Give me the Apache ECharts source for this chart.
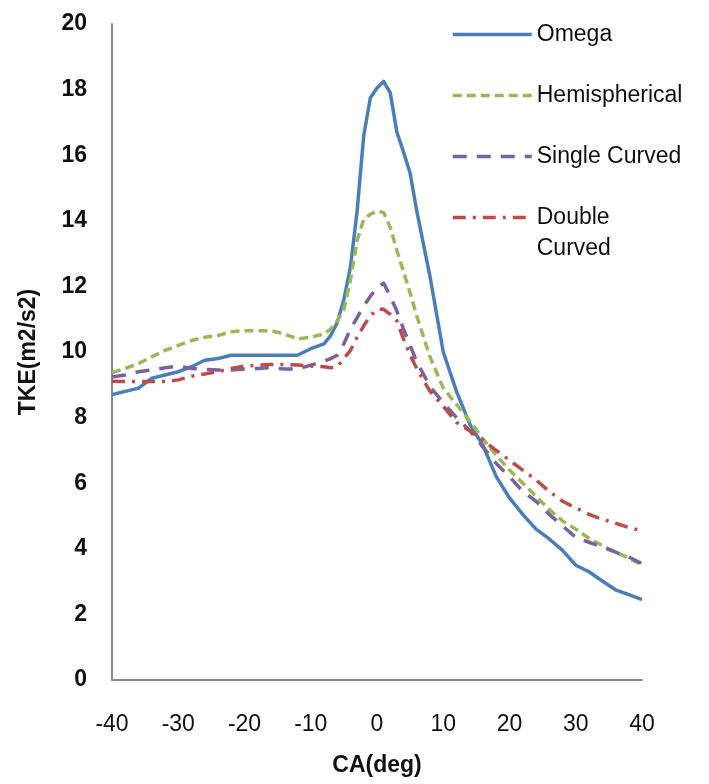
<!DOCTYPE html>
<html>
<head>
<meta charset="utf-8">
<script src="https://cdn.jsdelivr.net/npm/echarts@6/dist/echarts.min.js"></script>
<style>
  html, body { margin: 0; padding: 0; background: #ffffff; }
  #chart { width: 709px; height: 784px; }
</style>
</head>
<body>
<div id="chart"></div>
<script>
// Crank angle (deg)
const angles = [
  -40, -38, -36, -34, -32, -30, -28, -26, -24, -22, -20, -18, -16, -14, -12, -10, -8,
  -7, -6, -5, -4, -3, -2, -1, 0, 1, 2, 3, 4, 5, 6,
  8, 10, 12, 14, 16, 18, 20, 22, 24, 26, 28, 30, 32, 34, 36, 38, 40
];

// Turbulent kinetic energy (m2/s2) for each piston bowl shape
const omega = [
  8.7, 8.8, 8.9, 9.2, 9.3, 9.4, 9.55, 9.75, 9.8, 9.9, 9.9, 9.9, 9.9, 9.9, 9.9, 10.1, 10.25,
  10.5, 10.9, 11.6, 12.6, 14.3, 16.6, 17.75, 18.05, 18.25, 17.9, 16.7, 16.1, 15.45, 14.3,
  12.3, 10.0, 8.8, 7.8, 7.15, 6.2, 5.55, 5.05, 4.6, 4.3, 3.95, 3.5, 3.3, 3.02, 2.75, 2.6, 2.45
];
const hemispherical = [
  9.37, 9.5, 9.65, 9.85, 10.05, 10.2, 10.35, 10.45, 10.5, 10.62, 10.65, 10.65, 10.65, 10.55, 10.4, 10.45, 10.55,
  10.7, 10.95, 11.3, 12.2, 13.4, 14.05, 14.2, 14.3, 14.25, 13.8, 13.1, 12.45, 11.8, 11.1,
  9.85, 8.9, 8.4, 7.9, 7.35, 6.85, 6.4, 6.0, 5.6, 5.2, 4.85, 4.6, 4.32, 4.1, 3.9, 3.72, 3.5
];
const singleCurved = [
  9.24, 9.3, 9.4, 9.45, 9.52, 9.57, 9.5, 9.47, 9.45, 9.45, 9.48, 9.5, 9.52, 9.48, 9.48, 9.6, 9.72,
  9.8, 9.9, 10.25, 10.7, 11.05, 11.4, 11.7, 11.95, 12.1, 11.7, 11.25, 10.7, 10.2, 9.7,
  8.95, 8.45, 8.0, 7.6, 7.1, 6.6, 6.2, 5.75, 5.45, 5.05, 4.7, 4.35, 4.2, 4.05, 3.9, 3.75, 3.55
];
const doubleCurved = [
  9.11, 9.1, 9.1, 9.1, 9.1, 9.15, 9.26, 9.33, 9.4, 9.5, 9.57, 9.6, 9.62, 9.62, 9.6, 9.57, 9.55,
  9.52, 9.55, 9.8, 10.05, 10.45, 10.8, 11.1, 11.3, 11.3, 11.15, 10.95, 10.4, 9.9, 9.5,
  8.8, 8.35, 7.85, 7.6, 7.3, 7.0, 6.7, 6.4, 6.1, 5.75, 5.45, 5.25, 5.05, 4.9, 4.78, 4.65, 4.55
];

const xTicks = { min: -40, max: 40, interval: 10 };
const yTicks = { min: 0, max: 20, interval: 2 };

const pairs = (ys) => angles.map((a, i) => [a, ys[i]]);

const axisFont = 'Liberation Sans, Arial, sans-serif';
const ink = '#111111';

const chart = echarts.init(document.getElementById('chart'), null, { renderer: 'canvas' });

function lineSeries(name, values, color, type) {
  return {
    name: name,
    type: 'line',
    data: pairs(values),
    showSymbol: false,
    symbol: 'none',
    smooth: false,
    lineStyle: { color: color, width: 3.5, type: type, cap: 'butt', join: 'round' },
    itemStyle: { color: color },
    emphasis: { disabled: true },
    z: 2
  };
}

// shared look of the two legend blocks: key line only, no marker
const legendBase = {
  orient: 'vertical',
  left: 446,
  itemWidth: 79,
  itemHeight: 31,
  itemGap: 30,
  selectedMode: false,
  itemStyle: { opacity: 0 },
  lineStyle: { width: 3.5 },
  textStyle: { fontFamily: axisFont, fontSize: 23, color: ink, lineHeight: 31 }
};

chart.setOption({
  animation: false,
  backgroundColor: '#ffffff',
  grid: { left: 112, right: 67, top: 24, bottom: 104, containLabel: false },
  legend: [
    Object.assign({}, legendBase, {
      top: 14,
      data: ['Omega', 'Hemispherical', 'Single Curved']
    }),
    // two-line entry: the key line sits beside the first line of text
    Object.assign({}, legendBase, {
      top: 166,
      data: ['Double Curved'],
      formatter: () => ' \nDouble\nCurved'
    })
  ],
  xAxis: {
    type: 'value',
    min: xTicks.min,
    max: xTicks.max,
    interval: xTicks.interval,
    name: 'CA(deg)',
    nameLocation: 'middle',
    nameGap: 74,
    nameTextStyle: { fontFamily: axisFont, fontSize: 23, fontWeight: 'bold', color: ink },
    axisLine: { show: true, onZero: false, lineStyle: { color: '#8a8a8a', width: 2 } },
    axisTick: { show: false },
    splitLine: { show: false },
    axisLabel: { fontFamily: axisFont, fontSize: 23, color: ink, margin: 33 }
  },
  yAxis: {
    type: 'value',
    min: yTicks.min,
    max: yTicks.max,
    interval: yTicks.interval,
    name: 'TKE(m2/s2)',
    nameLocation: 'middle',
    nameGap: 72,
    nameRotate: 90,
    nameTextStyle: { fontFamily: axisFont, fontSize: 23, fontWeight: 'bold', color: ink },
    axisLine: { show: true, onZero: false, lineStyle: { color: '#8a8a8a', width: 2 } },
    axisTick: { show: false },
    splitLine: { show: false },
    axisLabel: { fontFamily: axisFont, fontSize: 23, fontWeight: 'bold', color: ink, margin: 25 }
  },
  series: [
    lineSeries('Omega', omega, '#4a7ebb', 'solid'),
    lineSeries('Hemispherical', hemispherical, '#98b954', [9, 5]),
    lineSeries('Single Curved', singleCurved, '#7d60a0', [14, 10]),
    lineSeries('Double Curved', doubleCurved, '#be4b48', [13, 7, 3, 7])
  ]
});
</script>
</body>
</html>
